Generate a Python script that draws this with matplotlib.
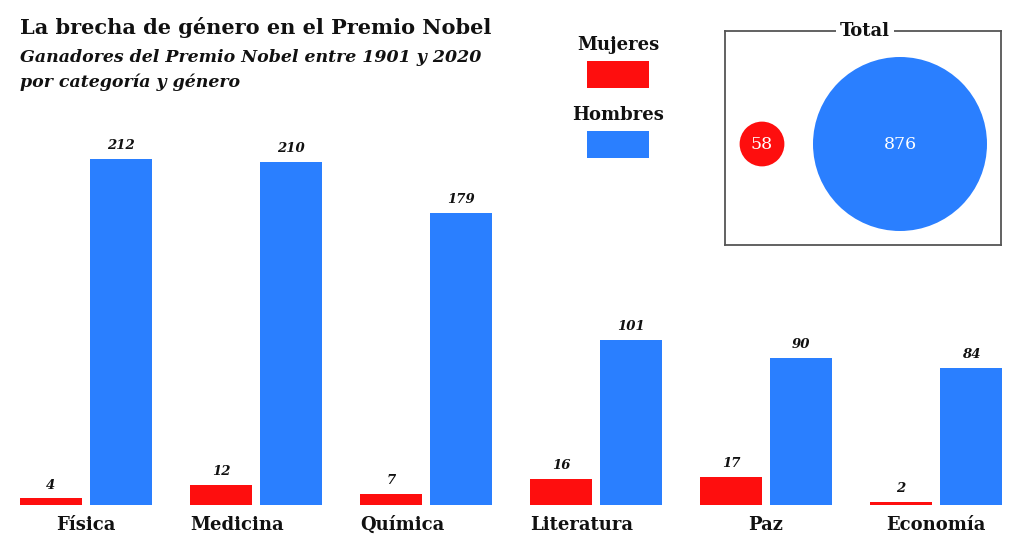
import matplotlib
matplotlib.use("Agg")
import matplotlib.pyplot as plt
from matplotlib.patches import Rectangle, Circle
import numpy as np

categories = ["Física", "Medicina", "Química", "Literatura", "Paz", "Economía"]
mujeres = [4, 12, 7, 16, 17, 2]
hombres = [212, 210, 179, 101, 90, 84]
total_mujeres = 58
total_hombres = 876
label_align = ["center", "left", "left", "left", "center", "center"]

RED = "#fe0e0e"
BLUE = "#2a7fff"
FONT = "DejaVu Serif"

W, H = 1024, 554
fig = plt.figure(figsize=(W / 100, H / 100), dpi=100)

def fx(px):
    return px / W

def fy(py):
    return 1 - py / H

# main bar axes
ax_left, ax_right, ax_bottom, ax_top = 20, 1002, 505, 100
ax = fig.add_axes([fx(ax_left), fy(ax_bottom), (ax_right - ax_left) / W, (ax_bottom - ax_top) / H])
x = np.arange(len(categories))
bw = 0.365
off = 0.206
ax.bar(x - off, mujeres, width=bw, color=RED)
ax.bar(x + off, hombres, width=bw, color=BLUE)
ax.set_xlim(-off - bw / 2, len(categories) - 1 + off + bw / 2)
ax.set_ylim(0, (ax_bottom - ax_top) / 1.633)
ax.axis("off")

for xi, v in zip(x - off, mujeres):
    ax.annotate(str(v), (xi, v), xytext=(0, 5), textcoords="offset points",
                ha="center", va="bottom", fontsize=9.5, fontstyle="italic",
                fontweight="bold", family=FONT, color="#111")
for xi, v in zip(x + off, hombres):
    ax.annotate(str(v), (xi, v), xytext=(0, 5), textcoords="offset points",
                ha="center", va="bottom", fontsize=9.5, fontstyle="italic",
                fontweight="bold", family=FONT, color="#111")

trans = ax.get_xaxis_transform()
for xi, cat, al in zip(x, categories, label_align):
    xpos = xi if al == "center" else xi - off - bw / 2
    ax.text(xpos, -0.05, cat, transform=trans, ha=al, va="center",
            fontsize=13, fontweight="bold", family=FONT, color="#111")

# title
fig.text(fx(20), fy(28), "La brecha de género en el Premio Nobel", ha="left", va="center",
         fontsize=15, fontweight="bold", family=FONT, color="#111")
fig.text(fx(20), fy(57), "Ganadores del Premio Nobel entre 1901 y 2020", ha="left", va="center",
         fontsize=12.5, fontweight="bold", fontstyle="italic", family=FONT, color="#111")
fig.text(fx(20), fy(82), "por categoría y género", ha="left", va="center",
         fontsize=12.5, fontweight="bold", fontstyle="italic", family=FONT, color="#111")

# legend
for label, color, ty, ry in [("Mujeres", RED, 45, 61), ("Hombres", BLUE, 115, 131)]:
    fig.text(fx(618), fy(ty), label, ha="center", va="center", fontsize=13,
             fontweight="bold", family=FONT, color="#111")
    fig.add_artist(Rectangle((fx(587), fy(ry + 27)), 62 / W, 27 / H,
                             transform=fig.transFigure, color=color, lw=0))

# total box
bx0, bx1, by0, by1 = 725, 1001, 31, 245
bax = fig.add_axes([fx(bx0), fy(by1), (bx1 - bx0) / W, (by1 - by0) / H])
bax.set_xlim(0, bx1 - bx0)
bax.set_ylim(0, by1 - by0)
bax.set_xticks([])
bax.set_yticks([])
for s in bax.spines.values():
    s.set_color("#555")
    s.set_linewidth(1.3)
k = 87 / np.sqrt(total_hombres)
cy = by1 - 144
for val, color, cx in [(total_mujeres, RED, 762 - bx0), (total_hombres, BLUE, 900 - bx0)]:
    bax.add_patch(Circle((cx, cy), k * np.sqrt(val), color=color, lw=0))
    bax.text(cx, cy, str(val), ha="center", va="center", fontsize=12.5,
             family=FONT, color="white")
bax.text((bx1 - bx0) / 2 + 2, by1 - by0, "Total", ha="center", va="center",
         fontsize=13, fontweight="bold", family=FONT, color="#111",
         bbox=dict(facecolor="white", edgecolor="none", pad=3), clip_on=False)

fig.savefig("out.png", dpi=100, facecolor="white")
